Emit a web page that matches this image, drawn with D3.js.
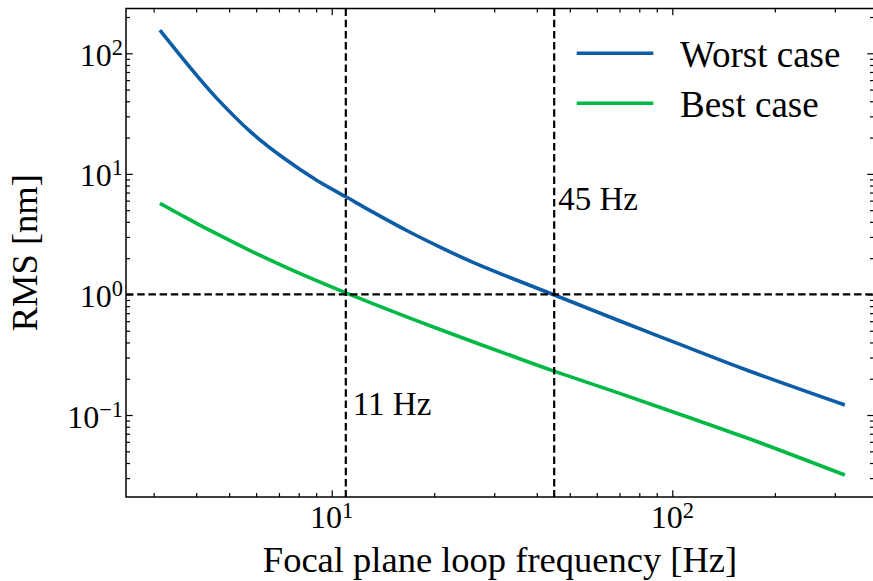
<!DOCTYPE html>
<html>
<head>
<meta charset="utf-8">
<script src="https://cdn.jsdelivr.net/npm/d3@7"></script>
<style>
  html, body { margin: 0; padding: 0; background: #fff; }
  svg { display: block; }
  text { font-family: "Liberation Serif", "Times New Roman", serif; fill: #000; }
</style>
</head>
<body>
<svg id="chart" width="873" height="581"></svg>
<script>
// ---- data ----
const freq      = [3.13, 3.4, 3.67, 4.1, 4.6, 5.76, 7.21, 9.03, 11.0, 13.25, 16.6, 20.8, 26.0, 32.7, 44.7, 68.7, 107.7, 169, 321];
const worstCase = [156.0, 116.3, 89.0, 61.1, 42.3, 22.5, 13.59, 8.86, 6.46, 4.79, 3.39, 2.47, 1.845, 1.413, 1.0, 0.617, 0.376, 0.2307, 0.1211];
const bestCase  = [5.70, 5.01, 4.45, 3.76, 3.18, 2.31, 1.72, 1.30, 1.031, 0.836, 0.652, 0.512, 0.405, 0.320, 0.2326, 0.154, 0.0991, 0.0632, 0.0318];
const seriesNames = ["Worst case", "Best case"];
const seriesColors = ["#0C5DA5", "#00B945"];
const refFreqs = [11, 45];
const refFreqLabels = ["11 Hz", "45 Hz"];
const refFreqLabelY = [0.1, 5];
const refRms = 1;
const xMajor = [10, 100];
const xExp = ["1", "2"];
const xMinor = [3, 4, 5, 6, 7, 8, 9, 20, 30, 40, 50, 60, 70, 80, 90, 200, 300];
const yMajor = [0.1, 1, 10, 100];
const yExp = ["\u22121", "0", "1", "2"];
const yMinor = [0.03,0.04,0.05,0.06,0.07,0.08,0.09,0.2,0.3,0.4,0.5,0.6,0.7,0.8,0.9,2,3,4,5,6,7,8,9,20,30,40,50,60,70,80,90,200];
const xTitle = "Focal plane loop frequency [Hz]";
const yTitle = "RMS [nm]";

// ---- layout ----
const L = 126, R = 874, T = 8.5, B = 497;
const svg = d3.select("#chart");
const x = d3.scaleLog().domain([2.489, 391]).range([L, R]);
const y = d3.scaleLog().domain([0.0209, 235.3]).range([B, T]);

svg.append("defs").append("clipPath").attr("id", "clip")
  .append("rect").attr("x", L).attr("y", T).attr("width", R - L).attr("height", B - T);

const plot = svg.append("g").attr("clip-path", "url(#clip)");

// data lines
const rows = freq.map((f, i) => ({ f, w: worstCase[i], b: bestCase[i] }));
const keys = ["w", "b"];
keys.forEach((k, i) => {
  const line = d3.line().x(d => x(d.f)).y(d => y(d[k])).curve(d3.curveCatmullRom.alpha(0.5));
  plot.append("path").datum(rows).attr("d", line)
    .attr("fill", "none").attr("stroke", seriesColors[i])
    .attr("stroke-width", 3.6).attr("stroke-linejoin", "round");
});

// reference dashed lines
refFreqs.forEach(f => {
  plot.append("line").attr("x1", x(f)).attr("x2", x(f)).attr("y1", T).attr("y2", B)
    .attr("stroke", "#000").attr("stroke-width", 2.2).attr("stroke-dasharray", "7.5,3.7");
});
plot.append("line").attr("x1", L).attr("x2", R).attr("y1", y(refRms)).attr("y2", y(refRms))
  .attr("stroke", "#000").attr("stroke-width", 2.2).attr("stroke-dasharray", "7.5,3.7");

// annotation labels
const annOffset = [7, 4];
refFreqs.forEach((f, i) => {
  svg.append("text").attr("x", x(f) + annOffset[i]).attr("y", y(refFreqLabelY[i]))
    .attr("font-size", 33).text(refFreqLabels[i]);
});

// axes (inward ticks on all sides)
function styleAxis(g) {
  g.select(".domain").remove();
  g.selectAll("line").attr("stroke", "#000").attr("stroke-width", 1.2);
  g.selectAll("text").remove();
}
const majLen = 6.7, minLen = 4;
svg.append("g").attr("transform", `translate(0,${B})`)
  .call(d3.axisBottom(x).tickValues(xMajor).tickSizeInner(-majLen).tickSizeOuter(0)).call(styleAxis);
svg.append("g").attr("transform", `translate(0,${B})`)
  .call(d3.axisBottom(x).tickValues(xMinor).tickSizeInner(-minLen).tickSizeOuter(0)).call(styleAxis);
svg.append("g").attr("transform", `translate(0,${T})`)
  .call(d3.axisTop(x).tickValues(xMajor).tickSizeInner(-majLen).tickSizeOuter(0)).call(styleAxis);
svg.append("g").attr("transform", `translate(0,${T})`)
  .call(d3.axisTop(x).tickValues(xMinor).tickSizeInner(-minLen).tickSizeOuter(0)).call(styleAxis);
svg.append("g").attr("transform", `translate(${L},0)`)
  .call(d3.axisLeft(y).tickValues(yMajor).tickSizeInner(-majLen).tickSizeOuter(0)).call(styleAxis);
svg.append("g").attr("transform", `translate(${L},0)`)
  .call(d3.axisLeft(y).tickValues(yMinor).tickSizeInner(-minLen).tickSizeOuter(0)).call(styleAxis);
svg.append("g").attr("transform", `translate(${R},0)`)
  .call(d3.axisRight(y).tickValues(yMajor).tickSizeInner(-majLen).tickSizeOuter(0)).call(styleAxis);
svg.append("g").attr("transform", `translate(${R},0)`)
  .call(d3.axisRight(y).tickValues(yMinor).tickSizeInner(-minLen).tickSizeOuter(0)).call(styleAxis);

// frame
svg.append("rect").attr("x", L).attr("y", T).attr("width", R - L).attr("height", B - T)
  .attr("fill", "none").attr("stroke", "#000").attr("stroke-width", 1.5);

// tick labels
const tickFs = 32, supFs = 22.4;
xMajor.forEach((v, i) => {
  const t = svg.append("text").attr("x", x(v)).attr("y", B + 31.3)
    .attr("text-anchor", "middle").attr("font-size", tickFs);
  t.append("tspan").text("10");
  t.append("tspan").attr("font-size", supFs).attr("dy", -10.5).text(xExp[i]);
});
yMajor.forEach((v, i) => {
  const t = svg.append("text").attr("x", L - 3).attr("y", y(v) + 12.5)
    .attr("text-anchor", "end").attr("font-size", tickFs);
  t.append("tspan").text("10");
  t.append("tspan").attr("font-size", supFs).attr("dy", -11).text(yExp[i]);
});

// axis titles
svg.append("text").attr("x", (L + R) / 2).attr("y", 571.7).attr("text-anchor", "middle")
  .attr("font-size", 36.5).text(xTitle);
svg.append("text").attr("transform", `translate(37,${(T + B) / 2}) rotate(-90)`)
  .attr("text-anchor", "middle").attr("font-size", 36.5).text(yTitle);

// legend
const legX1 = 576.7, legX2 = 653.3, legY0 = 53.3, legDy = 50;
seriesNames.forEach((name, i) => {
  const yy = legY0 + i * legDy;
  svg.append("line").attr("x1", legX1).attr("x2", legX2).attr("y1", yy).attr("y2", yy)
    .attr("stroke", seriesColors[i]).attr("stroke-width", 3.6);
  svg.append("text").attr("x", 680).attr("y", yy + 13.4).attr("font-size", 37).text(name);
});
</script>
</body>
</html>
